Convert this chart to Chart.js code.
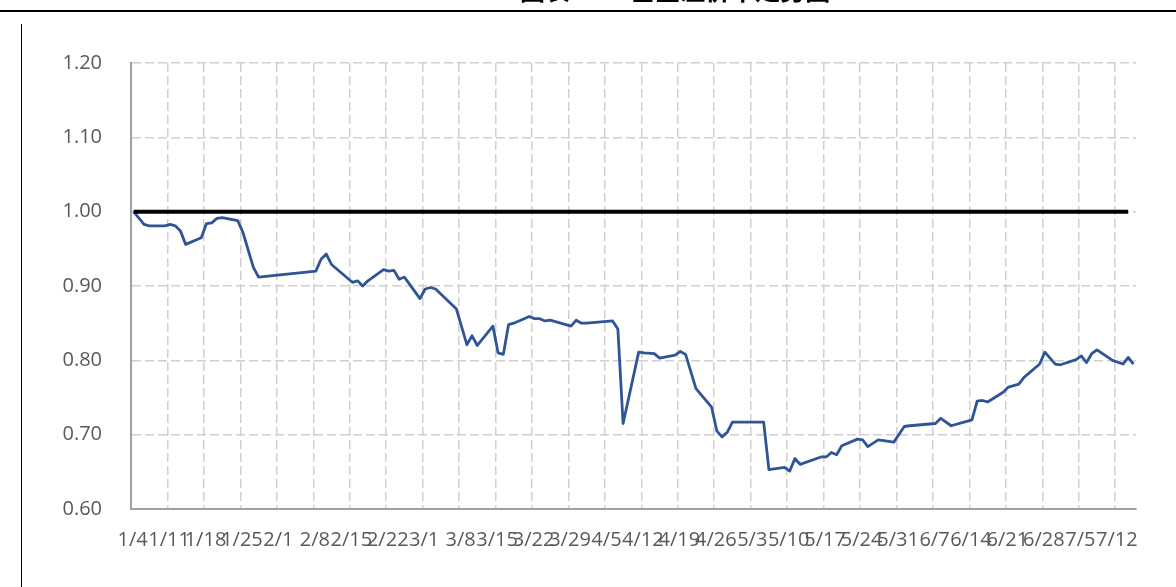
<!DOCTYPE html>
<html lang="zh">
<head>
<meta charset="utf-8">
<title>溢价率走势</title>
<script src="https://cdn.jsdelivr.net/npm/chart.js@4.4.1/dist/chart.umd.min.js"></script>
<style>
    html, body { margin: 0; padding: 0; background: #fff; overflow: hidden; }
    #wrap { position: relative; width: 1176px; height: 587px; overflow: hidden; }
    #chart { position: absolute; left: 0; top: 0; }
    .ds-title {
        position: absolute; left: 520px; top: -23px;
        font: bold 25px "Noto Sans CJK SC"; line-height: 25px;
        color: #000; white-space: nowrap;
    }
    .ds-top-rule { position: absolute; left: 0; top: 10px; width: 1176px; height: 2px; background: #000; }
    .ds-left-rule { position: absolute; left: 21px; top: 24px; width: 1px; height: 563px; background: #000; }
</style>
</head>
<body>
<div id="wrap">
    <canvas id="chart" width="1176" height="587"></canvas>
    <div class="ds-title">图表 12　基金溢价率走势图</div>
    <div class="ds-top-rule"></div>
    <div class="ds-left-rule"></div>
</div>
<script>
// tick labels on the date axis (weekly)
const tickLabels = ['1/4', '1/11', '1/18', '1/25', '2/1', '2/8', '2/15', '2/22', '3/1', '3/8',
    '3/15', '3/22', '3/29', '4/5', '4/12', '4/19', '4/26', '5/3', '5/10', '5/17', '5/24',
    '5/31', '6/7', '6/14', '6/21', '6/28', '7/5', '7/12'];

// ratio series (blue)
const ratioDates = ['1/4', '1/6', '1/7', '1/10', '1/11', '1/12', '1/13', '1/14', '1/17', '1/18',
    '1/19', '1/20', '1/21', '1/24', '1/25', '1/27', '1/28', '2/8', '2/9', '2/10',
    '2/11', '2/15', '2/16', '2/17', '2/18', '2/21', '2/22', '2/23', '2/24', '2/25',
    '2/28', '3/1', '3/2', '3/3', '3/7', '3/9', '3/10', '3/11', '3/14', '3/15',
    '3/16', '3/17', '3/18', '3/21', '3/22', '3/23', '3/24', '3/25', '3/29', '3/30',
    '3/31', '4/1', '4/6', '4/7', '4/8', '4/11', '4/12', '4/14', '4/15', '4/18',
    '4/19', '4/20', '4/22', '4/25', '4/26', '4/27', '4/28', '4/29', '5/5', '5/6',
    '5/9', '5/10', '5/11', '5/12', '5/16', '5/17', '5/18', '5/19', '5/20', '5/23',
    '5/24', '5/25', '5/27', '5/30', '6/1', '6/2', '6/7', '6/8', '6/10', '6/14',
    '6/15', '6/16', '6/17', '6/20', '6/21', '6/23', '6/24', '6/27', '6/28', '6/30',
    '7/1', '7/4', '7/5', '7/6', '7/7', '7/8', '7/11', '7/13', '7/14', '7/15'];
const ratioValues = [1.000, 0.983, 0.981, 0.981, 0.983, 0.981, 0.974, 0.956, 0.965, 0.984,
    0.985, 0.991, 0.992, 0.988, 0.972, 0.925, 0.912, 0.920, 0.936, 0.943,
    0.929, 0.905, 0.907, 0.900, 0.907, 0.922, 0.920, 0.921, 0.909, 0.912,
    0.883, 0.896, 0.898, 0.896, 0.869, 0.821, 0.833, 0.820, 0.846, 0.810,
    0.808, 0.848, 0.850, 0.859, 0.856, 0.856, 0.853, 0.854, 0.846, 0.854,
    0.850, 0.850, 0.853, 0.842, 0.715, 0.811, 0.810, 0.809, 0.803, 0.807,
    0.812, 0.808, 0.762, 0.737, 0.705, 0.697, 0.703, 0.717, 0.717, 0.653,
    0.656, 0.651, 0.668, 0.660, 0.670, 0.670, 0.676, 0.673, 0.685, 0.694,
    0.693, 0.684, 0.693, 0.690, 0.711, 0.712, 0.715, 0.722, 0.712, 0.720,
    0.745, 0.746, 0.744, 0.757, 0.764, 0.768, 0.777, 0.795, 0.811, 0.795,
    0.794, 0.801, 0.806, 0.797, 0.809, 0.814, 0.800, 0.795, 0.804, 0.795];

// reference level (black)
const baseDates = ['1/4', '7/14'];
const baseValues = [1.00, 1.00];

const lastDate = '7/15';

// days counted from 1/4
function dayIndex(md) {
    const parts = md.split('/');
    const t = Date.UTC(2021, Number(parts[0]) - 1, Number(parts[1]));
    return Math.round((t - Date.UTC(2021, 0, 4)) / 86400000);
}
function toPoints(dates, values) {
    return dates.map((d, i) => ({ x: dayIndex(d), y: values[i] }));
}

const textColor = '#595959';
const gridColor = '#d0d0d0';
const axisColor = '#a0a0a0';
const tickFont = { family: '"Open Sans", "Liberation Sans", sans-serif', size: 20 };

new Chart(document.getElementById('chart'), {
    type: 'line',
    data: {
        datasets: [{
            label: 'base',
            data: toPoints(baseDates, baseValues),
            borderColor: '#000000',
            borderWidth: 4,
            pointRadius: 0,
            tension: 0
        }, {
            label: 'ratio',
            data: toPoints(ratioDates, ratioValues),
            borderColor: '#2f5597',
            borderWidth: 2.8,
            pointRadius: 0,
            tension: 0,
            borderJoinStyle: 'round'
        }]
    },
    options: {
        responsive: false,
        animation: false,
        devicePixelRatio: 1,
        layout: { padding: { left: 0, top: 63, right: 40, bottom: 0 } },
        plugins: {
            legend: { display: false },
            tooltip: { enabled: false }
        },
        scales: {
            x: {
                type: 'linear',
                min: -0.5,
                max: dayIndex(lastDate) + 0.5,
                afterBuildTicks: function(scale) {
                    scale.ticks = tickLabels.map(l => ({ value: dayIndex(l) - 0.5 }));
                },
                afterFit: function(scale) { scale.height = 78; },
                grid: {
                    color: gridColor,
                    lineWidth: 1.5,
                    drawTicks: false
                },
                // in v4 the dash applies to the grid lines, the axis line stays solid
                border: { display: true, color: axisColor, width: 2, dash: [9, 4] },
                ticks: {
                    autoSkip: false,
                    maxRotation: 0,
                    minRotation: 0,
                    padding: 19,
                    labelOffset: 1.6,
                    color: textColor,
                    font: tickFont,
                    callback: function(value, index) { return tickLabels[index]; }
                }
            },
            y: {
                min: 0.6,
                max: 1.2,
                afterFit: function(scale) { scale.width = 131; },
                grid: {
                    color: gridColor,
                    lineWidth: 1.5,
                    drawTicks: false
                },
                border: { display: true, color: axisColor, width: 2, dash: [9, 4] },
                ticks: {
                    stepSize: 0.1,
                    padding: 29,
                    color: textColor,
                    font: tickFont,
                    callback: function(value) { return Number(value).toFixed(2); }
                }
            }
        }
    }
});
</script>
</body>
</html>
